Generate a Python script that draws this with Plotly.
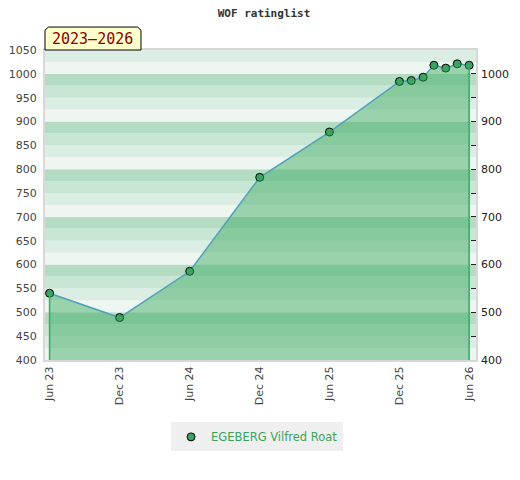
import plotly.graph_objects as go

# %% Data
dates = ['2023-06-01', '2023-12-01', '2024-06-01', '2024-12-01', '2025-06-01', '2025-12-01',
         '2026-01-01', '2026-02-01', '2026-03-01', '2026-04-01', '2026-05-01', '2026-06-01']
ratings = [540, 489, 586, 783, 878, 984, 986, 993, 1018, 1012, 1021, 1018]
player = 'EGEBERG Vilfred Roat'
period_label = '2023–2026'

tick_dates = ['2023-06-01', '2023-12-01', '2024-06-01', '2024-12-01', '2025-06-01', '2025-12-01', '2026-06-01']
tick_labels = ['Jun 23', 'Dec 23', 'Jun 24', 'Dec 24', 'Jun 25', 'Dec 25', 'Jun 26']

y_min, y_max = 400, 1050
stripe_colors = ['#eef6f1', '#dcede3', '#c8e6d4', '#b3dcc2']  # bottom -> top within each 100

fig = go.Figure()

# filled area under the rating line
fig.add_trace(
    go.Scatter(
        x=dates, y=ratings, mode='lines', fill='tozeroy',
        fillcolor='rgba(60,169,98,0.47)', line=dict(width=0, color='rgba(0,0,0,0)'),
        showlegend=False, hoverinfo='skip', yaxis='y2'
    )
)

# vertical edges of the filled area
for d, r in [(dates[0], ratings[0]), (dates[-1], ratings[-1])]:
    fig.add_trace(
        go.Scatter(
            x=[d, d], y=[y_min, r], mode='lines',
            line=dict(color='#35b060', width=1.6),
            showlegend=False, hoverinfo='skip', yaxis='y2'
        )
    )

fig.add_trace(
    go.Scatter(
        x=dates, y=ratings, mode='lines',
        line=dict(color='#5b9fd6', width=1.5),
        showlegend=False
    )
)
fig.add_trace(
    go.Scatter(
        x=dates, y=ratings, mode='markers', name=player,
        marker=dict(color='#3aa45f', size=8, line=dict(color='black', width=1))
    )
)

# background stripes
shapes = []
for i, y0 in enumerate(range(y_min, y_max, 25)):
    shapes.append(dict(type='rect', xref='paper', yref='y', x0=0, x1=1, y0=y0, y1=y0 + 25,
                       fillcolor=stripe_colors[i % 4], line=dict(width=0), layer='below'))

# period label box with cut corners
bw, bh, c = 0.2227, 0.074, 0.008
shapes.append(dict(type='path', xref='paper', yref='paper',
                   path=f'M 0 1 L 0 {1 + bh - 0.01} L {c} {1 + bh} L {bw - c} {1 + bh} '
                        f'L {bw} {1 + bh - 0.01} L {bw} 1 Z',
                   fillcolor='#ffffcc', line=dict(color='black', width=1)))

# the page body adds an 8px offset, so the figure is 8px smaller and margins shifted
fig.update_layout(
    width=512, height=472,
    margin=dict(l=37, r=44, t=42, b=120, autoexpand=False),
    paper_bgcolor='white', plot_bgcolor='white',
    title=dict(text='<b>WOF ratinglist</b>', x=0.5, xanchor='center', y=1 - 5 / 472, yanchor='middle',
               font=dict(family='DejaVu Sans Mono', size=11, color='#333333')),
    xaxis=dict(
        type='date', range=['2023-05-20', '2026-06-19'], automargin=False,
        tickvals=tick_dates, ticktext=tick_labels, tickangle=-90,
        tickfont=dict(family='DejaVu Sans', size=11, color='#444444'),
        showgrid=False, zeroline=False,
        showline=True, linecolor='#d8d8d8', linewidth=2, mirror=True, ticks=''
    ),
    yaxis=dict(
        range=[y_min, y_max], dtick=50, tick0=400, automargin=False, ticklabelstandoff=4,
        tickfont=dict(family='DejaVu Sans', size=11, color='#444444'),
        showgrid=False, zeroline=False,
        showline=True, linecolor='#d8d8d8', linewidth=2, mirror=True, ticks=''
    ),
    yaxis2=dict(
        range=[y_min, y_max], overlaying='y', side='right', automargin=False, ticklabelstandoff=4,
        tickvals=list(range(400, 1001, 50)),
        ticktext=[str(v) if v % 100 == 0 else '' for v in range(400, 1001, 50)],
        ticks='inside', ticklen=5, tickcolor='#222222',
        tickfont=dict(family='DejaVu Sans', size=11, color='#222222'),
        showgrid=False, zeroline=False, showline=False
    ),
    shapes=shapes,
    annotations=[dict(xref='paper', yref='paper', x=0.111, y=1 + 0.037, text=period_label,
                      showarrow=False, xanchor='center', yanchor='middle',
                      font=dict(family='DejaVu Sans Mono', size=15, color='#8b0000'))],
    legend=dict(orientation='h', x=0.492, xanchor='center', y=-0.248, yanchor='middle',
                bgcolor='#efefef', font=dict(family='DejaVu Sans', size=11.5, color='#3aa45f')),
    hovermode=False
)

fig.write_html('out.html')
